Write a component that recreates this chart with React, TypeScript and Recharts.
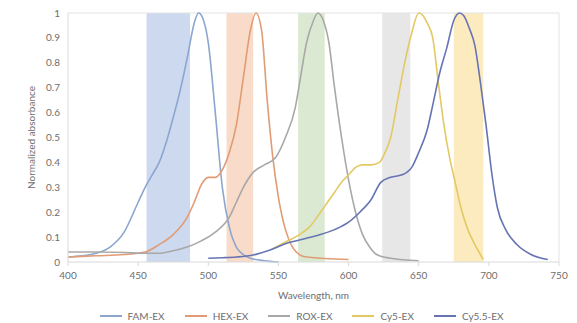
import {
  LineChart,
  Line,
  XAxis,
  YAxis,
  ReferenceArea,
  ReferenceLine,
  Legend,
} from "recharts";

// wavelength (nm) / normalized absorbance
const famNm = [400, 410, 420, 430, 440, 450, 455, 460, 465, 470, 475, 480, 485, 490, 493, 496, 500, 505, 510, 515, 520, 525, 530, 540, 550];
const famAbs = [0.02, 0.025, 0.035, 0.06, 0.12, 0.24, 0.3, 0.35, 0.4, 0.48, 0.58, 0.69, 0.82, 0.96, 1.0, 0.98, 0.88, 0.6, 0.3, 0.14, 0.06, 0.03, 0.015, 0.005, 0.0];

const hexNm = [400, 420, 440, 455, 465, 475, 485, 490, 495, 500, 505, 510, 515, 520, 525, 530, 534, 538, 542, 546, 550, 555, 560, 565, 570, 600];
const hexAbs = [0.02, 0.025, 0.03, 0.04, 0.07, 0.11, 0.18, 0.24, 0.31, 0.34, 0.34, 0.37, 0.44, 0.55, 0.74, 0.93, 1.0, 0.93, 0.65, 0.42, 0.26, 0.13, 0.06, 0.03, 0.02, 0.01];

const roxNm = [400, 420, 440, 455, 465, 475, 485, 495, 505, 515, 520, 525, 532, 540, 548, 555, 562, 566, 570, 575, 578, 582, 586, 590, 595, 600, 605, 610, 615, 620, 630, 650];
const roxAbs = [0.04, 0.04, 0.038, 0.035, 0.035, 0.045, 0.06, 0.085, 0.12, 0.18, 0.24, 0.3, 0.36, 0.39, 0.42, 0.5, 0.62, 0.75, 0.88, 0.97, 1.0, 0.97, 0.88, 0.7, 0.5, 0.33, 0.2, 0.11, 0.06, 0.03, 0.015, 0.005];

const cy5Nm = [545, 555, 565, 572, 580, 585, 590, 595, 600, 605, 610, 616, 622, 626, 630, 635, 640, 645, 650, 653, 656, 660, 664, 668, 672, 676, 680, 685, 690, 694, 696];
const cy5Abs = [0.05, 0.08, 0.11, 0.14, 0.2, 0.24, 0.28, 0.32, 0.35, 0.38, 0.39, 0.39, 0.4, 0.44, 0.5, 0.65, 0.8, 0.92, 1.0, 0.99, 0.96, 0.9, 0.72, 0.55, 0.42, 0.32, 0.22, 0.13, 0.07, 0.03, 0.01];

const cy55Nm = [500, 510, 520, 532, 545, 556, 570, 580, 590, 600, 608, 616, 623, 630, 638, 645, 650, 656, 660, 665, 670, 675, 679, 682, 686, 690, 694, 698, 702, 706, 712, 720, 730, 742];
const cy55Abs = [0.015, 0.017, 0.02, 0.028, 0.05, 0.075, 0.095, 0.11, 0.13, 0.16, 0.2, 0.25, 0.32, 0.34, 0.35, 0.38, 0.44, 0.53, 0.63, 0.76, 0.86, 0.97, 1.0, 0.99, 0.94, 0.87, 0.72, 0.55, 0.36, 0.22, 0.13, 0.07, 0.03, 0.01];

// excitation filter bands (nm)
const bandNames = ["FAM", "HEX", "ROX", "Cy5", "Cy5.5"];
const bandFrom = [456, 513, 564, 624, 675];
const bandTo = [487, 532, 583, 644, 696];

const xTicks = [400, 450, 500, 550, 600, 650, 700, 750];
const yTicks = [0, 0.1, 0.2, 0.3, 0.4, 0.5, 0.6, 0.7, 0.8, 0.9, 1];

const toPoints = (nm: number[], abs: number[]) => nm.map((x, i) => ({ x, y: abs[i] }));

const SERIES = [
  { name: "FAM-EX", data: toPoints(famNm, famAbs), color: "#8ca6cf" },
  { name: "HEX-EX", data: toPoints(hexNm, hexAbs), color: "#e09c74" },
  { name: "ROX-EX", data: toPoints(roxNm, roxAbs), color: "#a8a8a8" },
  { name: "Cy5-EX", data: toPoints(cy5Nm, cy5Abs), color: "#e3c963" },
  { name: "Cy5.5-EX", data: toPoints(cy55Nm, cy55Abs), color: "#6674b3" },
];

const BAND_COLORS = ["#cdd9ef", "#f9dbc9", "#dbe9d2", "#e7e7e7", "#fdebc0"];
const TEXT = "#6e6e6e";
const FONT = "Lato, 'Open Sans', sans-serif";

function LegendRow() {
  return (
    <div style={{ display: "flex", justifyContent: "center", gap: 20, paddingLeft: 26, fontFamily: FONT, fontSize: 10, lineHeight: "12px", color: TEXT }}>
      {SERIES.map((s) => (
        <div key={s.name} style={{ display: "flex", alignItems: "center", gap: 6 }}>
          <span style={{ display: "inline-block", width: 22, height: 1.5, background: s.color }} />
          <span>{s.name}</span>
        </div>
      ))}
    </div>
  );
}

export default function App() {
  return (
    <div style={{ position: "absolute", top: 0, left: 0, background: "#fff", width: 577, height: 323 }}>
      <LineChart
        width={577}
        height={323}
        margin={{ top: 13, right: 18, bottom: 21, left: 20 }}
        style={{ fontFamily: FONT }}
      >
        {bandNames.map((b, i) => (
          <ReferenceArea
            key={b}
            x1={bandFrom[i]}
            x2={bandTo[i]}
            y1={0}
            y2={1}
            fill={BAND_COLORS[i]}
            fillOpacity={1}
            stroke="none"
          />
        ))}
        <XAxis
          type="number"
          dataKey="x"
          domain={[400, 750]}
          ticks={xTicks}
          allowDuplicatedCategory={false}
          height={40}
          tickSize={4}
          tickMargin={6}
          stroke="#d9d9d9"
          tick={{ fill: TEXT, fontSize: 10 }}
          label={{ value: "Wavelength, nm", position: "insideBottom", offset: 3, fill: TEXT, fontSize: 10 }}
        />
        <YAxis
          type="number"
          dataKey="y"
          domain={[0, 1]}
          ticks={yTicks}
          width={48}
          tickLine={false}
          tickSize={0}
          tickMargin={8}
          stroke="#d9d9d9"
          tick={{ fill: TEXT, fontSize: 10 }}
          label={{ value: "Normalized absorbance", angle: -90, position: "insideLeft", offset: 11, fill: TEXT, fontSize: 10, style: { textAnchor: "middle" } }}
        />
        <ReferenceLine y={1} stroke="#e3e3e3" />
        <ReferenceLine x={750} stroke="#e3e3e3" />
        {SERIES.map((s) => (
          <Line
            key={s.name}
            data={s.data}
            dataKey="y"
            name={s.name}
            type="monotone"
            stroke={s.color}
            strokeWidth={1.6}
            dot={false}
            activeDot={false}
            isAnimationActive={false}
          />
        ))}
        <Legend
          verticalAlign="middle"
          align="center"
          layout="horizontal"
          content={() => <LegendRow />}
          wrapperStyle={{ top: 310, left: 0, width: 577 }}
        />
      </LineChart>
    </div>
  );
}
